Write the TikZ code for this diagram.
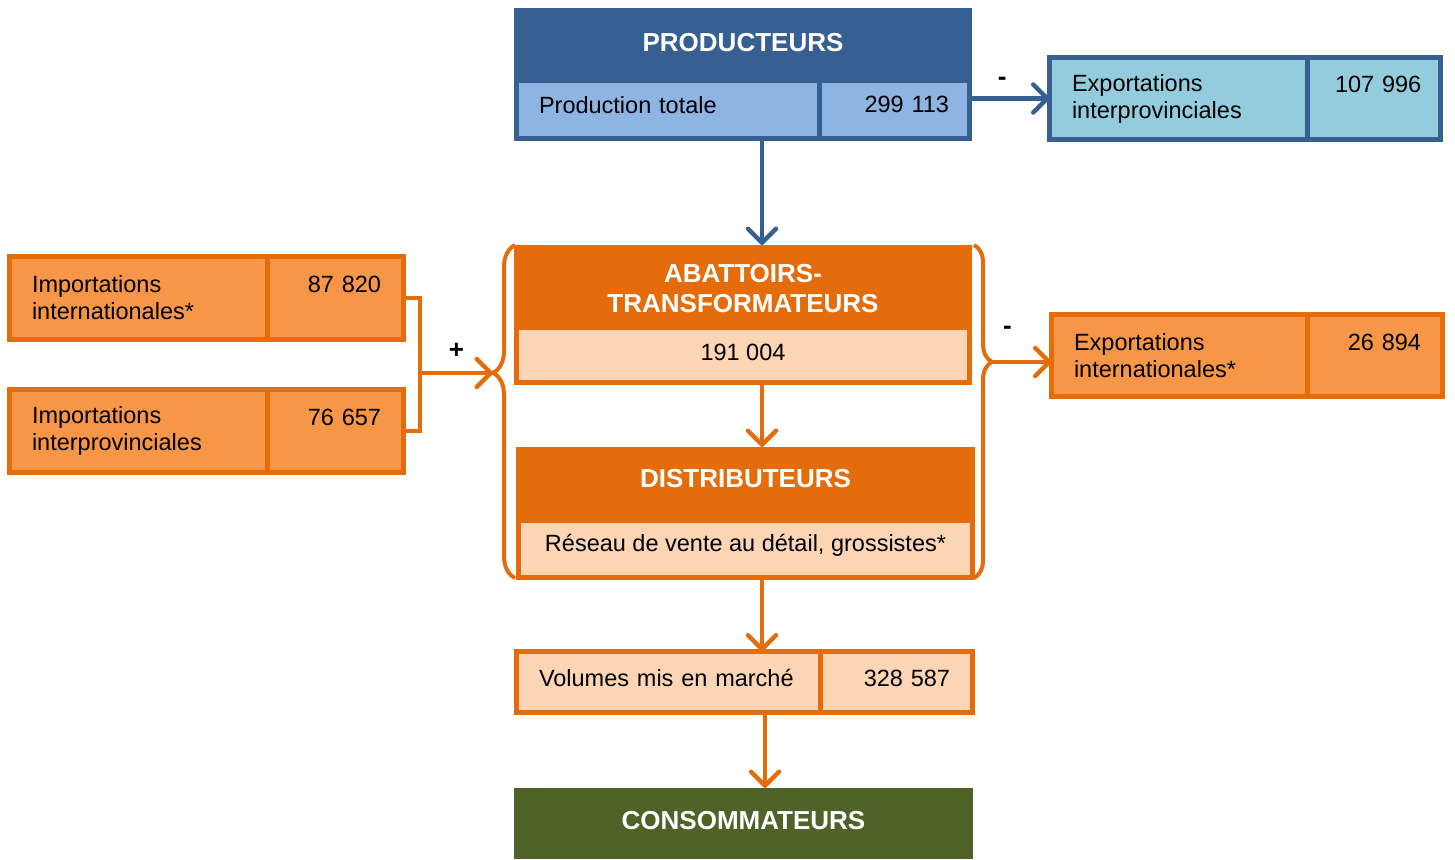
\documentclass[tikz,border=0pt]{standalone}
\usepackage{fontspec}
\setmainfont{Liberation Sans}
\usetikzlibrary{positioning,arrows.meta,decorations.pathreplacing}

\definecolor{bleufonce}{HTML}{376092}
\definecolor{bleupale}{HTML}{8EB4E3}
\definecolor{turquoise}{HTML}{93CDDD}
\definecolor{orangefonce}{HTML}{E46C0A}
\definecolor{orangemoyen}{HTML}{F79646}
\definecolor{peche}{HTML}{FCD5B5}
\definecolor{vertolive}{HTML}{4F6228}

\tikzset{
  cell/.style={rectangle, line width=5pt, inner sep=0pt, outer sep=0pt, font=\fontsize{23.5}{27}\selectfont},
  titre/.style={rectangle, inner sep=0pt, outer sep=0pt, text=white, align=center, font=\bfseries\fontsize{26}{30}\selectfont},
  fleche/.style={-{Straight Barb[length=14pt,width=28pt,round]}, line width=4.5pt},
  signe/.style={font=\bfseries\fontsize{26}{30}\selectfont, text=black, inner sep=0pt}
}

\begin{document}
\begin{tikzpicture}[x=1pt,y=-1pt]
\useasboundingbox (0,0) rectangle (1455,859);

% Producteurs
\node[titre, fill=bleufonce, minimum width=458pt, minimum height=72pt, text depth=4pt, anchor=north west](PROD) at (514,8){PRODUCTEURS};
\node[cell, draw=bleufonce, fill=bleupale, minimum width=302.5pt, minimum height=58pt, text width=257.5pt, text depth=10pt, align=left, anchor=north west](ProdTot) at (516.5,80.5){Production totale};
\node[cell, draw=bleufonce, fill=bleupale, minimum width=150.5pt, minimum height=58pt, text width=109.5pt, text depth=10pt, align=right, right=0pt of ProdTot](ProdNum){299 113};

% Exportations interprovinciales
\node[cell, draw=bleufonce, fill=turquoise, minimum width=257.5pt, minimum height=82pt, text width=212.5pt, align=left, anchor=north west](EXPg) at (1049.5,57.5){Exportations\\interprovinciales};
\node[cell, draw=bleufonce, fill=turquoise, minimum width=133.5pt, minimum height=82pt, text width=95pt, align=right, right=0pt of EXPg](EXPn){107 996\\[2pt]\mbox{}};

% Importations
\node[cell, draw=orangefonce, fill=orangemoyen, minimum width=257.5pt, minimum height=83pt, text width=212.5pt, align=left, anchor=north west](IMPint) at (9.5,256.5){Importations\\internationales*};
\node[cell, draw=orangefonce, fill=orangemoyen, minimum width=136.5pt, minimum height=83pt, text width=91.5pt, align=right, right=0pt of IMPint](IMPintn){87 820\\\mbox{}};
\node[cell, draw=orangefonce, fill=orangemoyen, minimum width=257.5pt, minimum height=83pt, text width=212.5pt, align=left, anchor=north west](IMPpro) at (9.5,389.5){Importations\\interprovinciales};
\node[cell, draw=orangefonce, fill=orangemoyen, minimum width=136.5pt, minimum height=83pt, text width=91.5pt, align=right, right=0pt of IMPpro](IMPpron){76 657\\\mbox{}};

% Abattoirs-transformateurs
\node[titre, fill=orangefonce, minimum width=458pt, minimum height=82pt, anchor=north west](ABAT) at (514,245){\raisebox{-3pt}[\height][\depth]{ABATTOIRS-}\\\raisebox{-3pt}[\height][\depth]{TRANSFORMATEURS}};
\node[cell, draw=orangefonce, fill=peche, minimum width=453pt, minimum height=55pt, text depth=6pt, anchor=north west](ABATv) at (516.5,327.5){191 004};

% Distributeurs
\node[titre, fill=orangefonce, minimum width=459pt, minimum height=73pt, text depth=10pt, anchor=north west](DIST) at (516,447){DISTRIBUTEURS};
\node[cell, draw=orangefonce, fill=peche, minimum width=454pt, minimum height=57.5pt, text depth=11pt, anchor=north west](DISTr) at (518.5,520){R\'eseau de vente au d\'etail, grossistes*};

% Exportations internationales
\node[cell, draw=orangefonce, fill=orangemoyen, minimum width=255.5pt, minimum height=82pt, text width=210.5pt, align=left, anchor=north west](EXIg) at (1051.5,314.5){Exportations\\internationales*};
\node[cell, draw=orangefonce, fill=orangemoyen, minimum width=135.5pt, minimum height=82pt, text width=92.5pt, align=right, right=0pt of EXIg](EXIn){26 894\\\mbox{}};

% Volumes mis en marche
\node[cell, draw=orangefonce, fill=peche, minimum width=303.5pt, minimum height=61pt, text width=258.5pt, text depth=8pt, align=left, anchor=north west](VOLg) at (516.5,651.5){Volumes mis en march\'e};
\node[cell, draw=orangefonce, fill=peche, minimum width=152.5pt, minimum height=61pt, text width=107.5pt, text depth=8pt, align=right, right=0pt of VOLg](VOLn){328 587};

% Consommateurs
\node[titre, fill=vertolive, minimum width=459pt, minimum height=71pt, text depth=6pt, anchor=north west](CONSO) at (514,788){CONSOMMATEURS};

% Accolades
\draw[orangefonce, line width=4pt, decorate, decoration={brace, amplitude=22pt, aspect=0.616}] (515,578) -- (515,245);
\draw[orangefonce, line width=4pt, decorate, decoration={brace, amplitude=18pt, aspect=0.351}] (974,245) -- (974,578);
\coordinate (gtip) at (493,373);
\coordinate (dtip) at (992,362);
\coordinate (jonc) at (420,373);

% Arrows
\draw[fleche, bleufonce] (762,0 |- ProdTot.south) -- (762,0 |- ABAT.north);
\draw[fleche, bleufonce] ([yshift=11pt]ProdNum.east) -- ([yshift=11pt]ProdNum.east -| EXPg.west) node[signe, pos=0.41, above=11pt]{-};
\draw[orangefonce, line width=4pt] (IMPintn.east) -| (jonc) |- (IMPpron.east);
\draw[fleche, orangefonce] (jonc) -- (gtip) node[signe, midway, above=12pt]{+};
\draw[fleche, orangefonce] (dtip) -- (dtip -| EXIg.west) node[signe, pos=0.26, above=25pt]{-};
\draw[fleche, orangefonce] (762,0 |- ABATv.south) -- (762,0 |- DIST.north);
\draw[fleche, orangefonce] (762,0 |- DISTr.south) -- (762,0 |- VOLg.north);
\draw[fleche, orangefonce] (765,0 |- VOLg.south) -- (765,0 |- CONSO.north);

\end{tikzpicture}
\end{document}
